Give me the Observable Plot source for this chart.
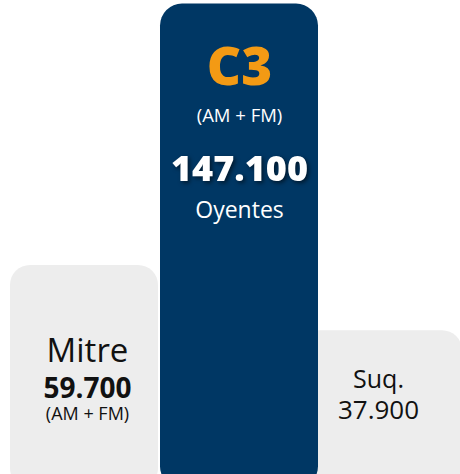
<!DOCTYPE html>
<html><head><meta charset="utf-8">
<script src="https://cdn.jsdelivr.net/npm/d3@7"></script>
<script src="https://cdn.jsdelivr.net/npm/@observablehq/plot@0.6"></script>
<style>
html,body{margin:0;padding:0;background:#fff;overflow:hidden;}
</style></head><body><div id="chart"></div>
<script>
// Data
const stations = ["Mitre", "C3", "Suq."];
const listeners = [59.7, 147.1, 37.9]; // miles de oyentes
const valueLabels = ["59.700", "147.100", "37.900"];
const bandLabels = ["(AM + FM)", "(AM + FM)", ""];
const unitLabel = "Oyentes";

const data = stations.map((s, i) => ({station: s, value: listeners[i], label: valueLabels[i], band: bandLabels[i]}));
const mitre = data.filter(d => d.station === "Mitre");
const c3 = data.filter(d => d.station === "C3");
const suq = data.filter(d => d.station === "Suq.");

// Style constants
const cardBase = -15;           // cards extend below the visible area
const navy = "#003764", gray = "#ededed", orange = "#f39a14";
const font = "Open Sans";

const chart = Plot.plot({
  width: 460, height: 474,
  marginTop: 0, marginBottom: 0, marginLeft: 0, marginRight: 0,
  x: {type: "band", domain: stations, range: [2, 476], padding: 0, axis: null},
  y: {domain: [-10.2, 148.3], axis: null},
  style: {background: "#fff"},
  marks: [
    Plot.barY(mitre, {x: "station", y1: cardBase, y2: "value", fill: gray, rx: 20, insetLeft: 8, insetRight: 2}),
    Plot.barY(suq, {x: "station", y1: cardBase, y2: "value", fill: gray, rx: 20, insetLeft: -20, insetRight: 14}),
    Plot.barY(c3, {x: "station", y1: cardBase, y2: "value", fill: navy, rx: 22}),

    // C3 card
    Plot.text(c3, {x: "station", y: "value", text: "station", dy: 81, lineAnchor: "bottom", fill: orange, fontSize: 53, fontWeight: 800, fontFamily: font}),
    Plot.text(c3, {x: "station", y: "value", text: "band", dy: 118, lineAnchor: "bottom", fill: "#fff", fontSize: 18.5, fontFamily: font}),
    Plot.text(c3, {x: "station", y: "value", text: "label", dy: 177, lineAnchor: "bottom", fill: "#fff", fontSize: 36, fontWeight: 800, fontFamily: font}),
    Plot.text(c3, {x: "station", y: "value", text: () => unitLabel, dy: 214, lineAnchor: "bottom", fill: "#fff", fontSize: 23, fontFamily: font}),

    // Mitre card
    Plot.text(mitre, {x: "station", y: "value", text: "station", dx: 6, dy: 97, lineAnchor: "bottom", fill: "#111", fontSize: 33, fontFamily: font}),
    Plot.text(mitre, {x: "station", y: "value", text: "label", dx: 6, dy: 133, lineAnchor: "bottom", fill: "#111", fontSize: 28, fontWeight: 700, fontFamily: font}),
    Plot.text(mitre, {x: "station", y: "value", text: "band", dx: 6, dy: 155, lineAnchor: "bottom", fill: "#111", fontSize: 18, fontFamily: font}),

    // Suq card
    Plot.text(suq, {x: "station", y: "value", text: "station", dx: -19, dy: 57, lineAnchor: "bottom", fill: "#111", fontSize: 25, fontFamily: font}),
    Plot.text(suq, {x: "station", y: "value", text: "label", dx: -19, dy: 88, lineAnchor: "bottom", fill: "#111", fontSize: 26, fontFamily: font})
  ]
});
document.getElementById("chart").append(chart);

// shadowed big C3 figure
d3.select(chart).selectAll("text").filter(function() { return this.textContent === "147.100"; })
  .style("filter", "drop-shadow(2px 2px 2px rgba(0,0,0,0.55))");
</script>
</body></html>
